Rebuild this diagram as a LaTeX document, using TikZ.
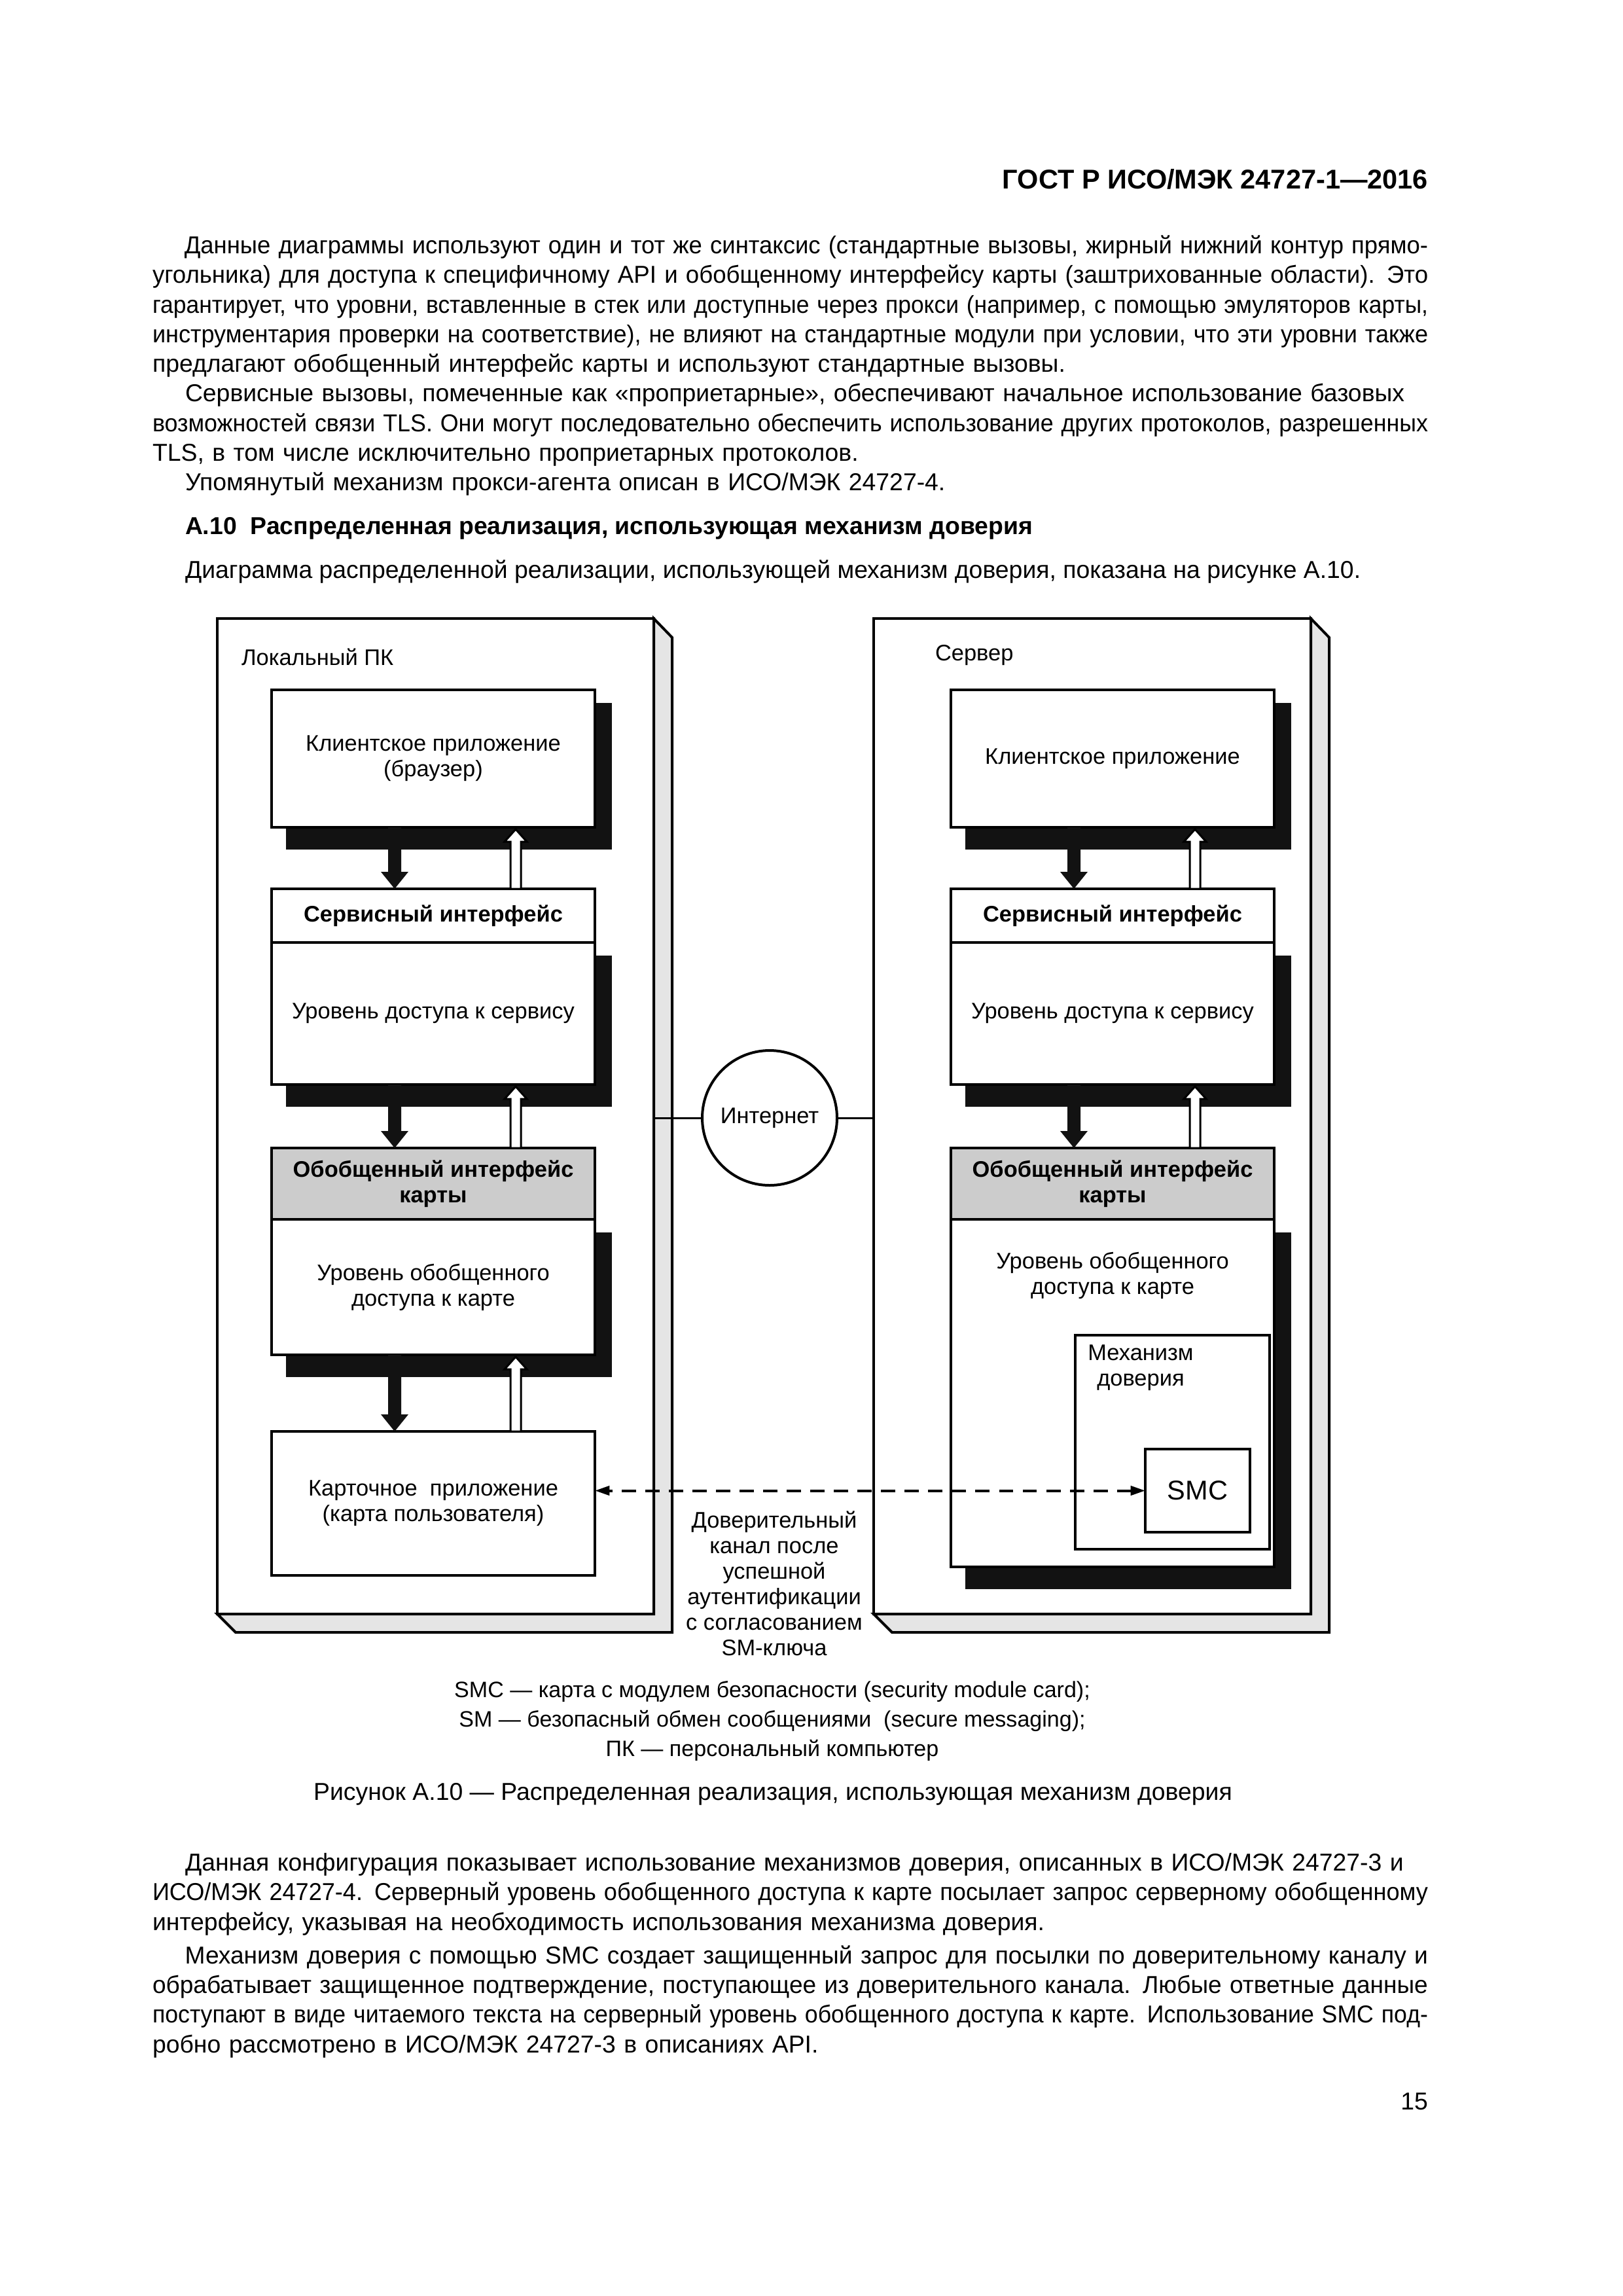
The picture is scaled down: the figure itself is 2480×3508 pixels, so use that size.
\documentclass[tikz,border=0pt]{standalone}
\usepackage{graphicx}
\usepackage{fontspec}
\setmainfont{Liberation Sans}
\usetikzlibrary{arrows.meta, backgrounds, positioning}

\newlength\pxl
\setlength\pxl{0.08467mm}
\newsavebox\linebox
\newcommand\bodyfont{\fontsize{9}{10.9}\selectfont}
\newcommand\diagfont{\fontsize{8.3}{9.4}\selectfont}
\newcommand\legendfont{\fontsize{8.2}{10.8}\selectfont}
\newcommand\indentpar{\hspace*{50\pxl}}
% one justified line (condensed when too long) / one last line of a paragraph
\newcommand\jline[1]{\noindent\sbox\linebox{\strut#1}%
  \ifdim\wd\linebox>\linewidth\resizebox{\linewidth}{\height}{\usebox\linebox}%
  \else\makebox[\linewidth][s]{\strut#1}\fi\par}
\newcommand\eline[1]{\noindent\strut#1\par}
% call arrows: #1 base, #2 tip
\newcommand\calldown[2]{%
  \path (#1) coordinate (db) (#2) coordinate (dt);
  \fill[downcall] ([shift={(-10,0)}]db) -- ([shift={(-10,-26)}]dt) -- ([shift={(-21,-26)}]dt)
    -- (dt) -- ([shift={(21,-26)}]dt) -- ([shift={(10,-26)}]dt) -- ([shift={(10,0)}]db) -- cycle;}
\newcommand\callup[2]{%
  \path (#1) coordinate (ub) (#2) coordinate (ut);
  \draw[upcall] ([shift={(-8,0)}]ub) -- ([shift={(-8,22)}]ut) -- ([shift={(-17,22)}]ut)
    -- ([shift={(0,3)}]ut) -- ([shift={(17,22)}]ut) -- ([shift={(8,22)}]ut) -- ([shift={(8,0)}]ub) -- cycle;}

\begin{document}
\begin{tikzpicture}[x=\pxl, y=-\pxl, line join=miter]
\tikzstyle{hostbox} = [draw, line width=4\pxl, fill=white, anchor=north west, inner sep=0pt, outer sep=0pt, minimum width=667\pxl, minimum height=1521\pxl]
\tikzstyle{bevel} = [draw, line width=4\pxl, fill=black!10]
\tikzstyle{tier} = [draw, line width=4\pxl, fill=white, anchor=north west, inner sep=2\pxl, outer sep=0pt, minimum width=494\pxl, align=center, font=\diagfont]
\tikzstyle{tierhead} = [tier, font=\diagfont\bfseries]
\tikzstyle{genhead} = [tierhead, fill=black!20]
\tikzstyle{castshadow} = [fill=black!93]
\tikzstyle{downcall} = [fill=black!93]
\tikzstyle{upcall} = [draw, line width=3\pxl, fill=white]
\tikzstyle{trustline} = [line width=0.34mm, dash pattern=on 1.86mm off 1.19mm, {Triangle[width=1.2mm, length=1.9mm]}-{Triangle[width=1.2mm, length=1.9mm]}]
\tikzstyle{plain} = [inner sep=0pt, outer sep=0pt]
\tikzstyle{para} = [plain, anchor=north west, text width=1949\pxl, font=\bodyfont]

\useasboundingbox (0,0) rectangle (2480,3508);

% page text above the figure
\node (hdr) [plain, anchor=base east, font=\fontsize{10}{12}\selectfont\bfseries] at (2182,288) {ГОСТ Р ИСО/МЭК 24727-1—2016};
\node (txta) [para] at (233,356) {%
\jline{\indentpar Данные диаграммы используют один и тот же синтаксис (стандартные вызовы, жирный нижний контур прямо-}
\jline{угольника) для доступа к специфичному API и обобщенному интерфейсу карты (заштрихованные области). Это}
\jline{гарантирует, что уровни, вставленные в стек или доступные через прокси (например, с помощью эмуляторов карты,}
\jline{инструментария проверки на соответствие), не влияют на стандартные модули при условии, что эти уровни также}
\eline{предлагают обобщенный интерфейс карты и используют стандартные вызовы.}
\jline{\indentpar Сервисные вызовы, помеченные как «проприетарные», обеспечивают начальное использование базовых}
\jline{возможностей связи TLS. Они могут последовательно обеспечить использование других протоколов, разрешенных}
\eline{TLS, в том числе исключительно проприетарных протоколов.}
\eline{\indentpar Упомянутый механизм прокси-агента описан в ИСО/МЭК 24727-4.}};
\node (sect) [plain, anchor=base west, font=\bodyfont\bfseries] at (283,816) {А.10\ \ Распределенная реализация, использующая механизм доверия};
\node (intro) [plain, anchor=base west, font=\bodyfont] at (283,883) {Диаграмма распределенной реализации, использующей механизм доверия, показана на рисунке А.10.};

% local PC layers
\node (clapp) [tier, minimum height=210\pxl] at (415,1054) {Клиентское приложение\\(браузер)};
\node (svcif) [tierhead, minimum height=82\pxl] at (415,1358) {Сервисный интерфейс};
\node (svcl) [tier, minimum height=217\pxl] at (svcif.south west) {Уровень доступа к сервису};
\node (genif) [genhead, minimum height=109\pxl] at (415,1754) {Обобщенный интерфейс\\карты};
\node (genl) [tier, minimum height=207\pxl] at (genif.south west) {Уровень обобщенного\\доступа к карте};
\node (cardapp) [tier, minimum height=220\pxl] at (415,2187) {Карточное\ \ приложение\\(карта пользователя)};

% server layers
\node (sclapp) [tier, minimum height=210\pxl] at (1453,1054) {Клиентское приложение};
\node (ssvcif) [tierhead, minimum height=82\pxl] at (1453,1358) {Сервисный интерфейс};
\node (ssvcl) [tier, minimum height=217\pxl] at (ssvcif.south west) {Уровень доступа к сервису};
\node (sgenif) [genhead, minimum height=109\pxl] at (1453,1754) {Обобщенный интерфейс\\карты};
\node (sgenl) [tier, minimum height=531\pxl] at (sgenif.south west) {};
\node (sgentxt) [plain, font=\diagfont, align=center] at (1700,1949) {Уровень обобщенного\\доступа к карте};
\node (tmech) [draw, line width=4\pxl, fill=white, anchor=north west, inner sep=0pt, outer sep=0pt, minimum width=297\pxl, minimum height=327\pxl] at (1643,2040) {};
\node (tmtxt) [plain, font=\diagfont, align=center] at (1743,2090) {Механизм\\доверия};
\node (smc) [draw, line width=4\pxl, fill=white, anchor=north west, inner sep=0pt, outer sep=0pt, minimum width=160\pxl, minimum height=127\pxl, font=\fontsize{10}{12}\selectfont] at (1750,2214) {SMC};

\begin{scope}[on background layer]
\fill[white] (0,0) rectangle (2480,3508);
\node (pc) [hostbox] at (332,945) {};
\node (srv) [hostbox, minimum width=668\pxl] at (1335,945) {};
\foreach \h in {pc, srv}
  \draw[bevel] (\h.north east) -- ++(28,29) -- ([shift={(28,28)}]\h.south east) -- ([shift={(28,28)}]\h.south west)
    -- (\h.south west) -- (\h.south east) -- cycle;
\foreach \t in {clapp, svcl, genl, sclapp, ssvcl, sgenl}
  \fill[castshadow] ([shift={(22,20)}]\t.north west) rectangle ([shift={(26,34)}]\t.south east);
\end{scope}

\node (pclbl) [plain, font=\diagfont, anchor=west] at (369,1004) {Локальный ПК};
\node (srvlbl) [plain, font=\diagfont, anchor=west] at (1429,1001) {Сервер};

% standard calls between layers
\coordinate (dl) at (603,0);
\coordinate (ul) at (788,0);
\coordinate (dr) at (1641,0);
\coordinate (ur) at (1826,0);
\foreach \a/\b/\d/\u in {clapp/svcif/dl/ul, svcl/genif/dl/ul, genl/cardapp/dl/ul, sclapp/ssvcif/dr/ur, ssvcl/sgenif/dr/ur} {
  \calldown{\a.south -| \d}{\b.north -| \d}
  \callup{\b.north -| \u}{\a.south -| \u}
}

% internet link and trusted channel
\node (inet) [circle, draw, line width=4\pxl, fill=white, minimum size=206\pxl, inner sep=0pt, font=\diagfont] at (1176,1708) {Интернет};
\draw[line width=3\pxl] (inet.west) -- (inet.west -| pc.east);
\draw[line width=3\pxl] (inet.east) -- (inet.east -| srv.west);
\draw[trustline] (smc.west) -- (smc.west -| cardapp.east);
\node (tchan) [plain, font=\diagfont, align=center, anchor=north] at (1183,2307) {\strut Доверительный\\канал после\\успешной\\аутентификации\\с согласованием\\SM-ключа};

% legend, caption and text below
\node (legend) [plain, font=\legendfont, align=center, anchor=north] at (1180,2562) {\strut SMC — карта с модулем безопасности (security module card);\\SM — безопасный обмен сообщениями\ \ (secure messaging);\\ПК — персональный компьютер};
\node (caption) [plain, anchor=base, font=\bodyfont] at (1181,2750) {Рисунок А.10 — Распределенная реализация, использующая механизм доверия};
\node (txtb) [para] at (233,2827) {%
\jline{\indentpar Данная конфигурация показывает использование механизмов доверия, описанных в ИСО/МЭК 24727-3 и}
\jline{ИСО/МЭК 24727-4. Серверный уровень обобщенного доступа к карте посылает запрос серверному обобщенному}
\eline{интерфейсу, указывая на необходимость использования механизма доверия.}
\vspace{6\pxl}
\jline{\indentpar Механизм доверия с помощью SMC создает защищенный запрос для посылки по доверительному каналу и}
\jline{обрабатывает защищенное подтверждение, поступающее из доверительного канала. Любые ответные данные}
\jline{поступают в виде читаемого текста на серверный уровень обобщенного доступа к карте. Использование SMC под-}
\eline{робно рассмотрено в ИСО/МЭК 24727-3 в описаниях API.}};
\node (pgno) [plain, anchor=base east, font=\bodyfont] at (2182,3223) {15};
\end{tikzpicture}
\end{document}
